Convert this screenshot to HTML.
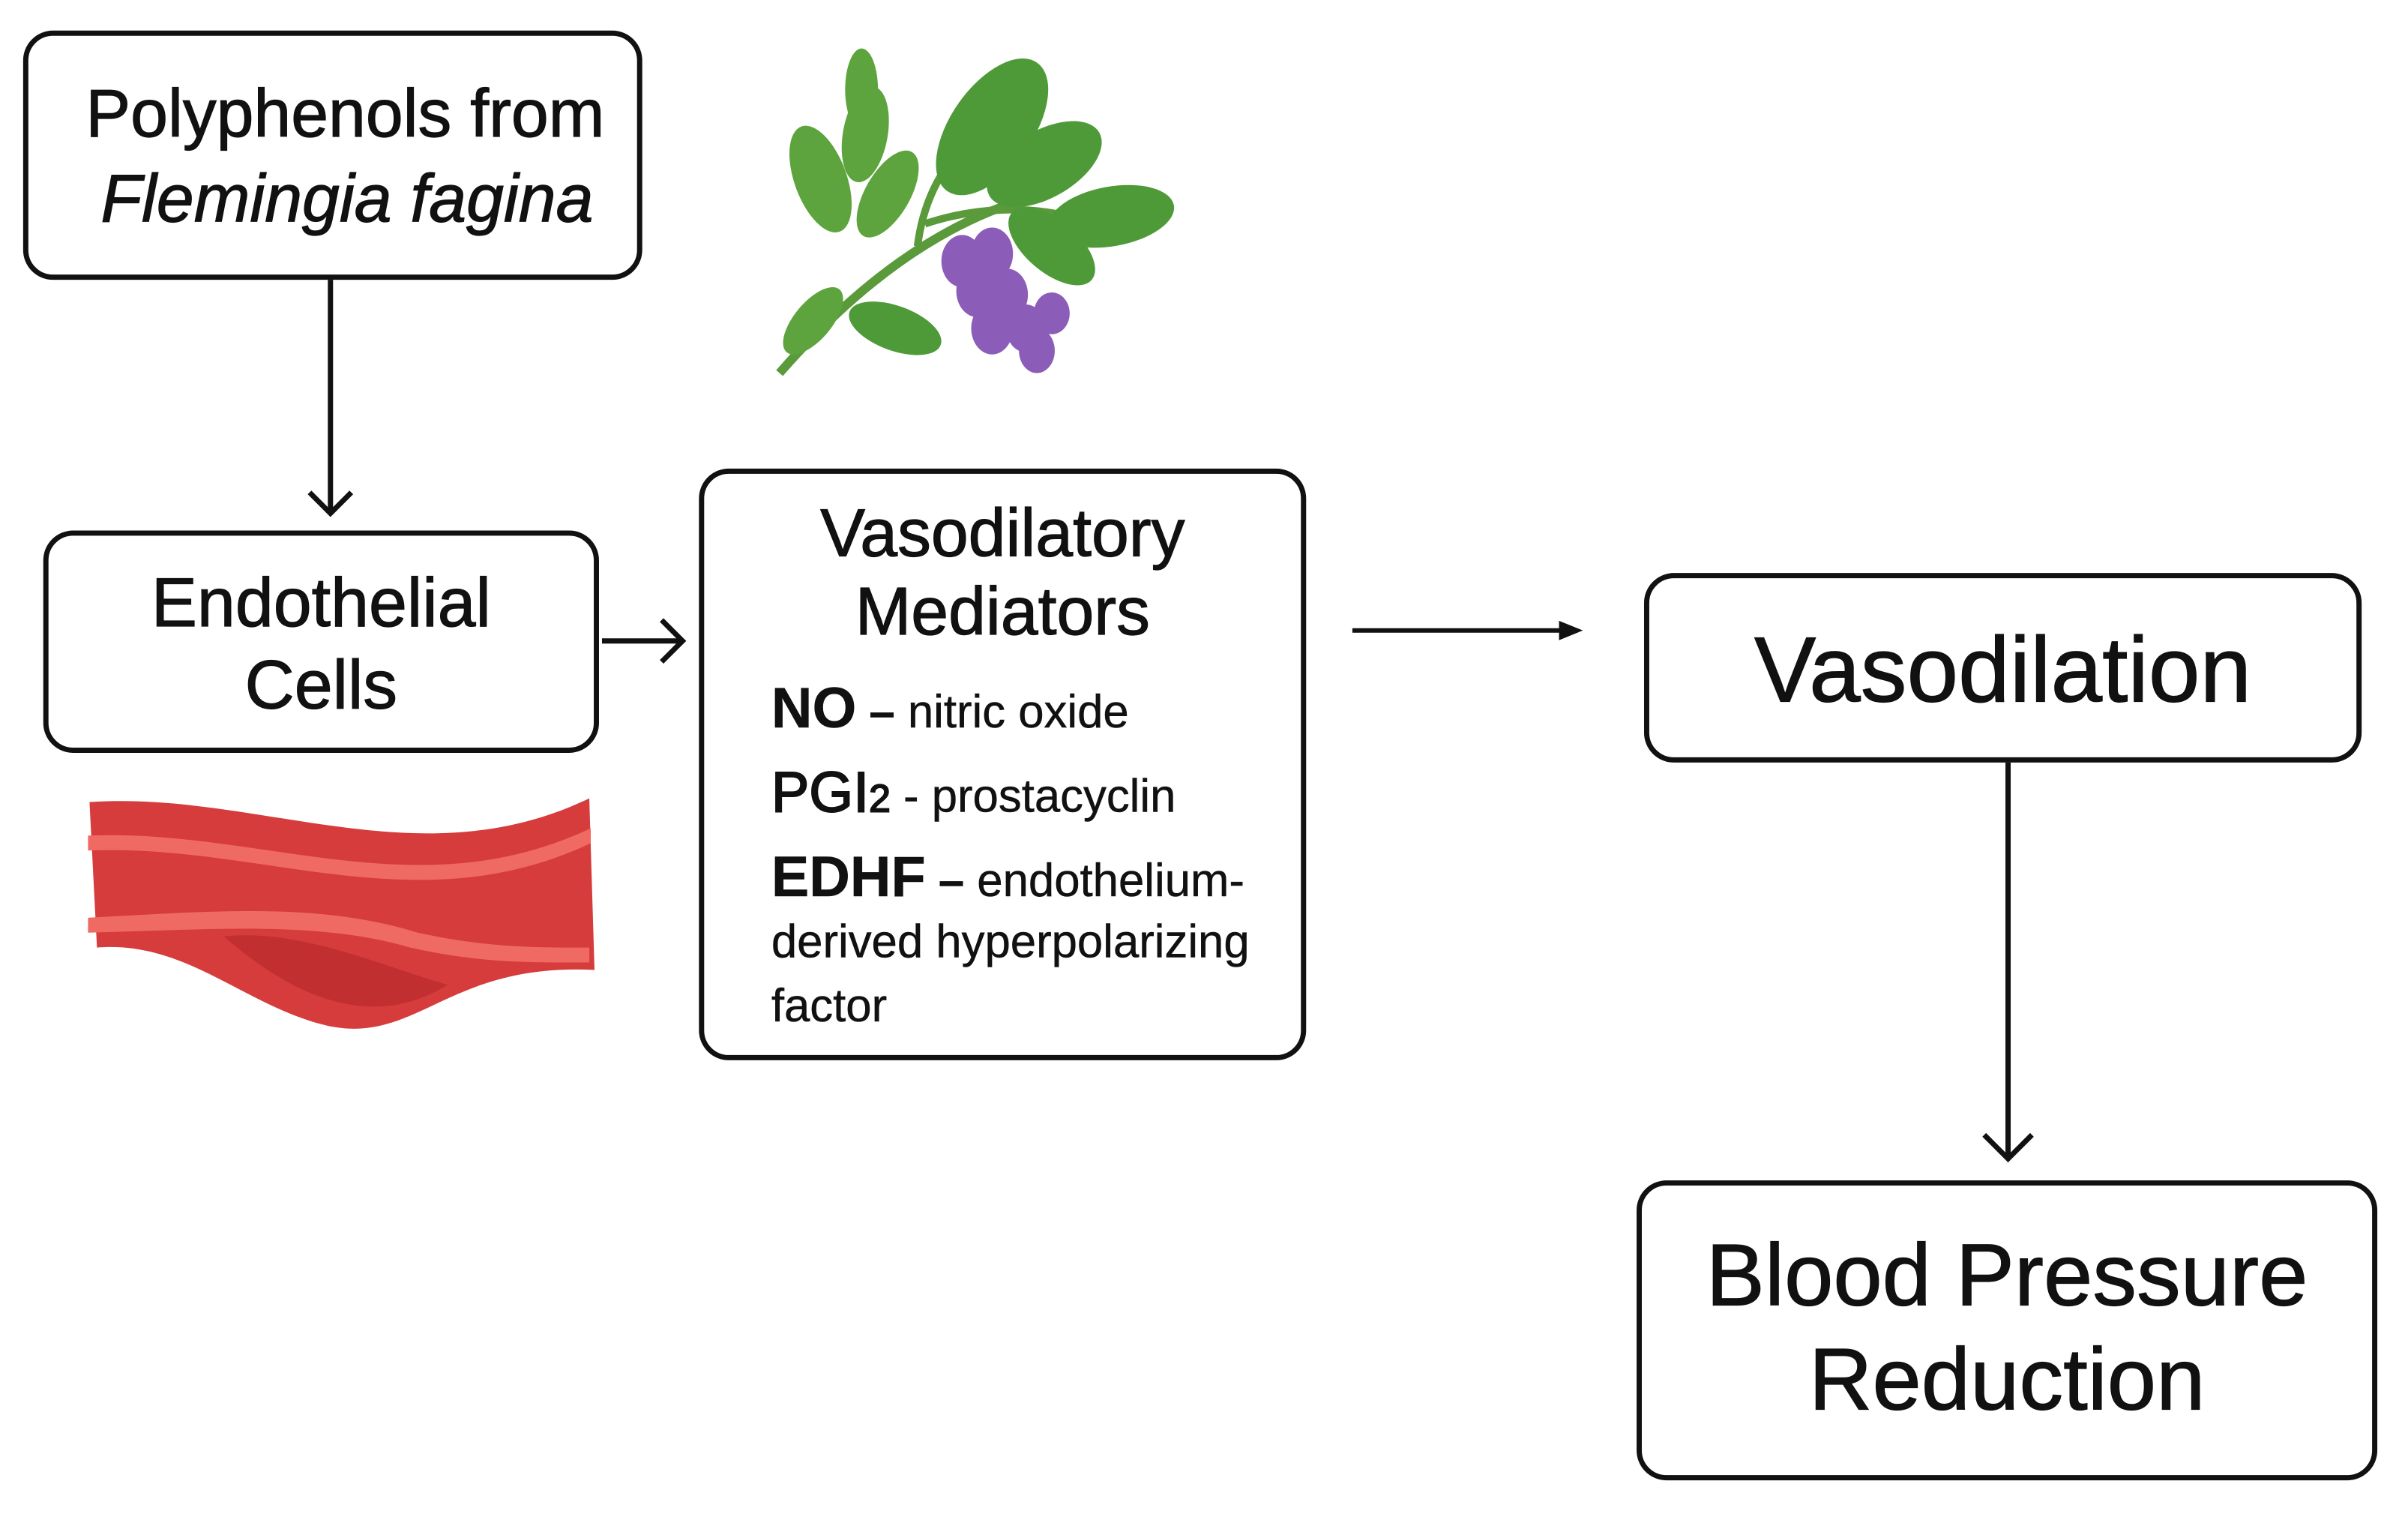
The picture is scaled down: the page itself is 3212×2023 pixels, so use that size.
<!DOCTYPE html>
<html><head><meta charset="utf-8"><style>
body{margin:0;width:3212px;height:2023px;background:#fff;position:relative;overflow:hidden;font-family:"Liberation Sans",sans-serif;color:#111}
#w{position:absolute;left:0;top:0;width:3212px;height:2023px;transform:scale(0.995);transform-origin:0 0}
.box{position:absolute;border:7px solid #111;border-radius:40px;box-sizing:border-box;background:#fff}
.t{position:absolute;white-space:nowrap;line-height:1;-webkit-text-stroke:1.2px #111}
</style></head><body><div id="w">
<div class="box" style="left:31px;top:41px;width:830px;height:334px"></div>
<div class="t" style="left:115px;top:108px;font-size:90px">Polyphenols from</div>
<div class="t" style="left:135px;top:222px;font-size:90px;font-style:italic">Flemingia fagina</div>

<div class="box" style="left:58px;top:711px;width:745px;height:298px"></div>
<div class="t" style="left:58px;width:745px;text-align:center;top:762px;font-size:92px">Endothelial</div>
<div class="t" style="left:58px;width:745px;text-align:center;top:872px;font-size:92px">Cells</div>

<div class="box" style="left:937px;top:628px;width:814px;height:793px"></div>
<div class="t" style="left:937px;width:814px;text-align:center;top:670px;font-size:90px">Vasodilatory</div>
<div class="t" style="left:937px;width:814px;text-align:center;top:775px;font-size:90px">Mediators</div>
<div class="t" style="left:1034px;top:912px;font-size:62px;-webkit-text-stroke:0.5px #111"><b style="font-size:76px">NO</b> <b>–</b> nitric oxide</div>
<div class="t" style="left:1034px;top:1025px;font-size:62px;-webkit-text-stroke:0.5px #111"><span style="font-size:76px;-webkit-text-stroke:2px #111">PGI<span style="font-size:52px">2</span></span> - prostacyclin</div>
<div class="t" style="left:1034px;top:1138px;font-size:62px;-webkit-text-stroke:0.5px #111"><b style="font-size:76px">EDHF</b> <b>–</b> endothelium-</div>
<div class="t" style="left:1034px;top:1232px;font-size:62px;-webkit-text-stroke:0.5px #111">derived hyperpolarizing</div>
<div class="t" style="left:1034px;top:1318px;font-size:62px;-webkit-text-stroke:0.5px #111">factor</div>

<div class="box" style="left:2204px;top:768px;width:962px;height:254px"></div>
<div class="t" style="left:2204px;width:962px;text-align:center;top:836px;font-size:124px">Vasodilation</div>

<div class="box" style="left:2194px;top:1582px;width:993px;height:402px"></div>
<div class="t" style="left:2194px;width:993px;text-align:center;top:1650px;font-size:118px">Blood Pressure</div>
<div class="t" style="left:2194px;width:993px;text-align:center;top:1790px;font-size:118px">Reduction</div>

<svg width="3212" height="2023" style="position:absolute;left:0;top:0" fill="none" stroke="#111" stroke-width="7">
<line x1="443" y1="375" x2="443" y2="688"/><polyline points="415,660 443,688 471,660"/>
<line x1="807" y1="859" x2="915" y2="859"/><polyline points="887,831 915,859 887,887"/>
<line x1="1813" y1="845" x2="2100" y2="845" stroke-width="6"/><polygon points="2090,832 2122,845 2090,858" fill="#111" stroke="none"/>
<line x1="2692" y1="1022" x2="2692" y2="1553"/><polyline points="2660,1521 2692,1553 2724,1521"/>
<g stroke="none">
<path d="M1045 500 C1150 380 1260 300 1380 265" stroke="#5a9a3a" stroke-width="12" fill="none"/>
<path d="M1230 330 C1240 250 1280 200 1320 170" stroke="#5a9a3a" stroke-width="10" fill="none"/>
<path d="M1240 300 C1300 280 1380 270 1470 300" stroke="#5a9a3a" stroke-width="10" fill="none"/>
<ellipse cx="1330" cy="170" rx="55" ry="105" transform="rotate(35 1330 170)" fill="#4f9a38"/>
<ellipse cx="1400" cy="220" rx="45" ry="85" transform="rotate(60 1400 220)" fill="#4f9a38"/>
<ellipse cx="1490" cy="290" rx="40" ry="85" transform="rotate(80 1490 290)" fill="#4f9a38"/>
<ellipse cx="1410" cy="330" rx="35" ry="70" transform="rotate(130 1410 330)" fill="#4f9a38"/>
<ellipse cx="1100" cy="240" rx="35" ry="75" transform="rotate(-20 1100 240)" fill="#5da43e"/>
<ellipse cx="1160" cy="180" rx="30" ry="65" transform="rotate(10 1160 180)" fill="#5da43e"/>
<ellipse cx="1190" cy="260" rx="30" ry="65" transform="rotate(30 1190 260)" fill="#5da43e"/>
<ellipse cx="1155" cy="120" rx="22" ry="55" fill="#5da43e"/>
<ellipse cx="1200" cy="440" rx="30" ry="65" transform="rotate(-70 1200 440)" fill="#4f9a38"/>
<ellipse cx="1090" cy="430" rx="25" ry="55" transform="rotate(40 1090 430)" fill="#5da43e"/>
<g fill="#8b5cb8">
<ellipse cx="1290" cy="350" rx="28" ry="35"/><ellipse cx="1330" cy="340" rx="28" ry="35"/><ellipse cx="1310" cy="390" rx="28" ry="35"/>
<ellipse cx="1350" cy="395" rx="28" ry="35"/><ellipse cx="1330" cy="440" rx="28" ry="35"/><ellipse cx="1375" cy="440" rx="26" ry="32"/>
<ellipse cx="1390" cy="470" rx="24" ry="30"/><ellipse cx="1410" cy="420" rx="24" ry="28"/>
</g>
</g>
<g stroke="none">
<path d="M120 1075 C350 1060 560 1180 790 1070 L797 1300 C600 1290 560 1400 440 1375 C330 1350 250 1260 130 1270 Z" fill="#d63c3c"/>
<path d="M118 1120 C350 1110 560 1220 792 1110 L792 1130 C560 1240 350 1130 118 1140 Z" fill="#ef6a63"/>
<path d="M118 1230 C300 1220 430 1210 560 1250 C650 1270 720 1270 790 1270 L790 1290 C700 1290 640 1290 550 1270 C430 1235 300 1245 118 1250 Z" fill="#ef6a63"/>
<path d="M300 1255 C400 1245 500 1290 600 1320 C520 1370 420 1360 300 1255 Z" fill="#c22f30"/>
</g>
</svg>
</div></body></html>
